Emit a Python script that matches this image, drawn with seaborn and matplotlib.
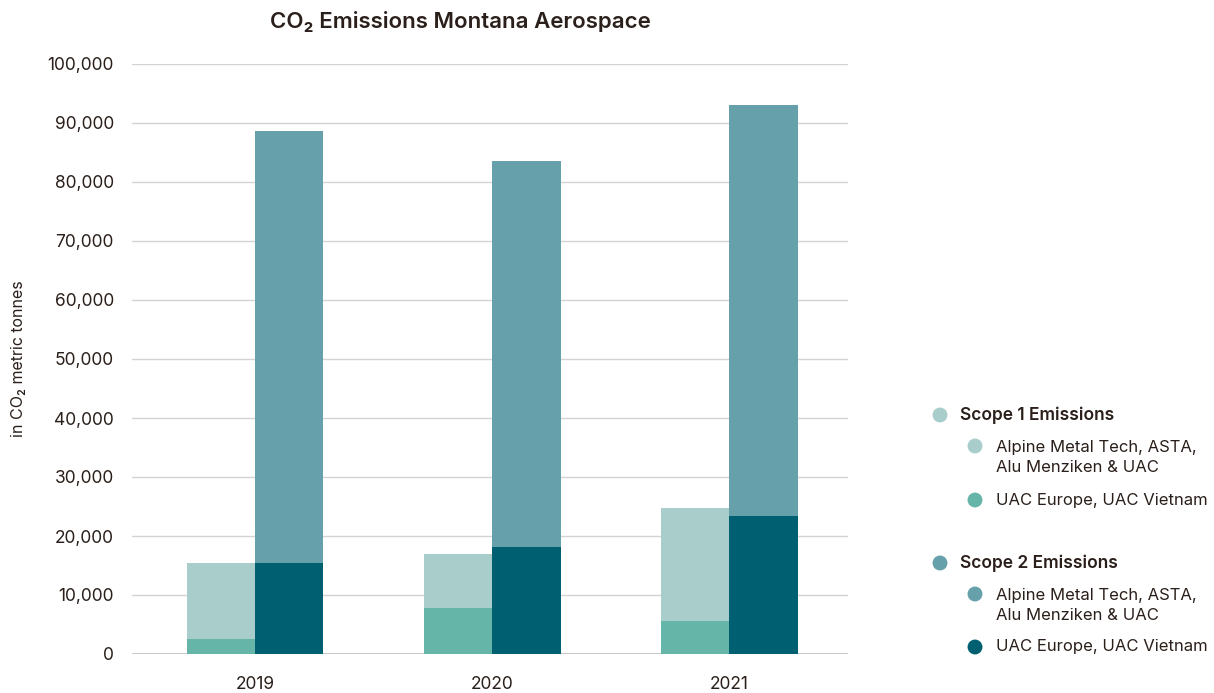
import matplotlib
matplotlib.use("Agg")
import matplotlib.pyplot as plt
import seaborn as sns
import pandas as pd
from matplotlib.ticker import FuncFormatter

# CO2 emissions in metric tonnes
years = ["2019", "2020", "2021"]
scope1_total = [15400, 16950, 24700]
scope1_uac = [2550, 7800, 5600]
scope2_total = [88650, 83600, 93050]
scope2_uac = [15400, 18150, 23400]

scopes = ["Scope 1 Emissions", "Scope 2 Emissions"]
group_labels = ["Alpine Metal Tech, ASTA,\nAlu Menziken & UAC", "UAC Europe, UAC Vietnam"]

c_s1_top = "#a8cdca"
c_s1_uac = "#66b5a9"
c_s2_top = "#66a0ab"
c_s2_uac = "#005f70"
text_color = "#2a1f1a"

sns.set_theme(style="white")
plt.rcParams["font.family"] = ["Inter", "DejaVu Sans"]
plt.rcParams["text.color"] = text_color
plt.rcParams["axes.labelcolor"] = text_color
plt.rcParams["xtick.color"] = text_color
plt.rcParams["ytick.color"] = text_color

df = pd.DataFrame({
    "year": years * 2,
    "scope": [scopes[0]] * 3 + [scopes[1]] * 3,
    "total": scope1_total + scope2_total,
    "uac": scope1_uac + scope2_uac,
})

W, H = 1214, 693
fig = plt.figure(figsize=(W / 100, H / 100), dpi=100)
ax = fig.add_axes([132 / W, (H - 654) / H, 716 / W, 590 / H])

sns.barplot(data=df, x="year", y="total", hue="scope", hue_order=scopes,
            palette=[c_s1_top, c_s2_top], width=0.575, dodge=True,
            saturation=1, legend=False, ax=ax, zorder=3, linewidth=0)
sns.barplot(data=df, x="year", y="uac", hue="scope", hue_order=scopes,
            palette=[c_s1_uac, c_s2_uac], width=0.575, dodge=True,
            saturation=1, legend=False, ax=ax, zorder=3, linewidth=0)

ax.set_xlim(-0.52, 2.5)
ax.set_ylim(0, 100000)
ax.set_yticks(range(0, 100001, 10000))
ax.yaxis.set_major_formatter(FuncFormatter(lambda v, p: f"{int(v):,}"))
ax.set_axisbelow(True)
ax.yaxis.grid(True, color="#d3d3d3", linewidth=1)
ax.axhline(0, color="#c9c9c9", linewidth=2.2, zorder=2)
for s in ax.spines.values():
    s.set_visible(False)
ax.tick_params(axis="y", length=0, pad=13, labelsize=12.5)
ax.tick_params(axis="x", length=0, pad=16, labelsize=12.5)
ax.set_xlabel("")
ax.set_ylabel("in CO₂ metric tonnes", fontsize=11.5)
ax.yaxis.set_label_coords(-0.148, 0.5)

fig.text(460 / W, 1 - 21 / H, "CO₂ Emissions Montana Aerospace",
         ha="center", va="center", fontsize=16, fontweight="semibold")

# Legend drawn on an overlay in pixel coordinates
lax = fig.add_axes([0, 0, 1, 1])
lax.set_xlim(0, W)
lax.set_ylim(H, 0)
lax.axis("off")

legend_rows = [
    (940, 415, 960, scopes[0], c_s1_top, True),
    (975, 446, 996, group_labels[0], c_s1_top, False),
    (975, 500, 996, group_labels[1], c_s1_uac, False),
    (940, 563, 960, scopes[1], c_s2_top, True),
    (975, 594, 996, group_labels[0], c_s2_top, False),
    (975, 647, 996, group_labels[1], c_s2_uac, False),
]
for mx, my, tx, label, color, bold in legend_rows:
    lax.scatter([mx], [my], s=115, color=color, edgecolors="none")
    weight = "semibold" if bold else "normal"
    size = 12.5 if bold else 12
    if "\n" in label:
        lax.text(tx, my - 6, label, ha="left", va="top", fontsize=size,
                 fontweight=weight, linespacing=1.45)
    else:
        lax.text(tx, my, label, ha="left", va="center", fontsize=size,
                 fontweight=weight)

fig.savefig("out.png", dpi=100)
